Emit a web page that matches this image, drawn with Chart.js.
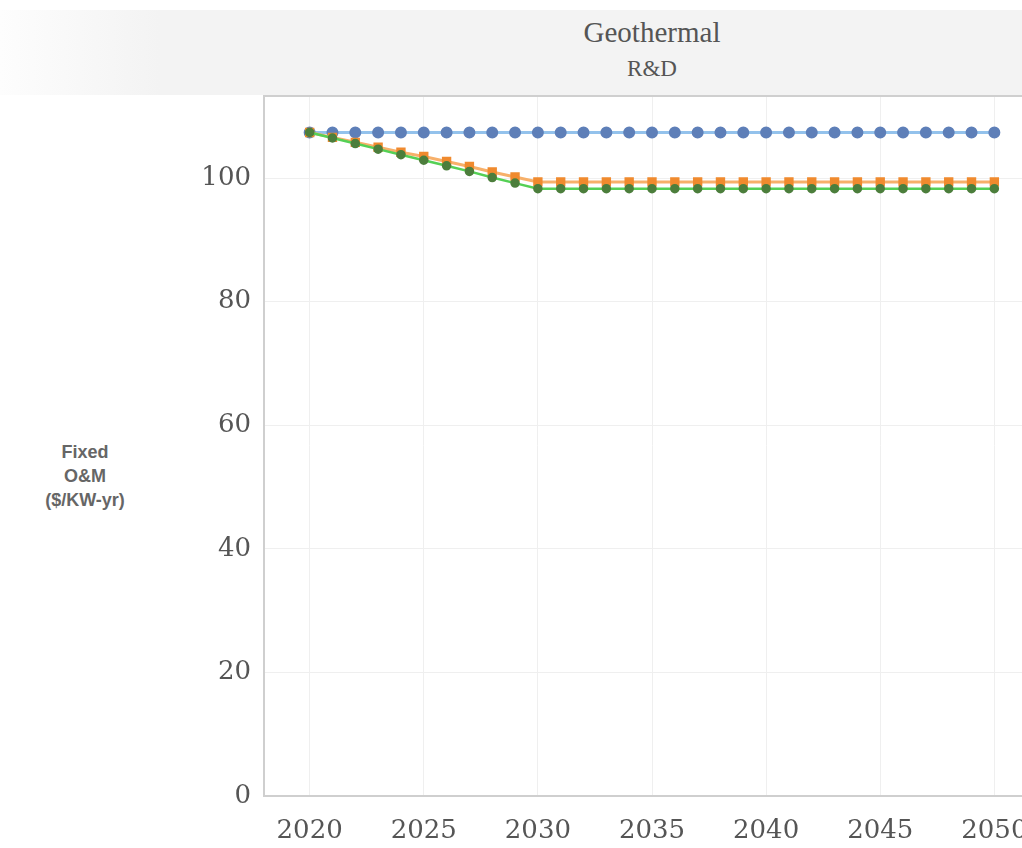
<!DOCTYPE html>
<html>
<head>
<meta charset="utf-8">
<script src="https://cdn.jsdelivr.net/npm/chart.js@4.4.1/dist/chart.umd.min.js"></script>
<style>
    html, body {
        margin: 0;
        padding: 0;
        background: #fff;
        overflow: hidden;
        width: 1022px;
        height: 848px;
    }
    .title-band {
        position: absolute;
        left: 0;
        top: 10px;
        width: 1022px;
        height: 85px;
        background: linear-gradient(90deg, #fdfdfd 0px, #f3f3f3 160px, #f3f3f3 100%);
        font-family: 'Liberation Serif', 'Times New Roman', serif;
        color: #555;
        text-align: center;
    }
    .title-band .main {
        position: absolute;
        left: 452px;
        width: 400px;
        top: 6px;
        font-size: 29px;
    }
    .title-band .sub {
        position: absolute;
        left: 452px;
        width: 400px;
        top: 46px;
        font-size: 23px;
    }
    .y-title {
        position: absolute;
        left: 25px;
        width: 120px;
        top: 440px;
        text-align: center;
        font-family: 'Liberation Sans', Arial, sans-serif;
        font-weight: bold;
        font-size: 18px;
        line-height: 24px;
        color: #666;
    }
    .chart-wrap {
        position: absolute;
        left: 0;
        top: 0;
        width: 1060px;
        height: 848px;
    }
</style>
</head>
<body>
<div class="title-band">
    <div class="main">Geothermal</div>
    <div class="sub">R&amp;D</div>
</div>
<div class="y-title">Fixed<br>O&amp;M<br>($/KW-yr)</div>
<div class="chart-wrap"><canvas id="omChart"></canvas></div>

<script>
// Data
const years = [2020, 2021, 2022, 2023, 2024, 2025, 2026, 2027, 2028, 2029, 2030,
    2031, 2032, 2033, 2034, 2035, 2036, 2037, 2038, 2039, 2040,
    2041, 2042, 2043, 2044, 2045, 2046, 2047, 2048, 2049, 2050];

const baseline = [107.4, 107.4, 107.4, 107.4, 107.4, 107.4, 107.4, 107.4, 107.4, 107.4, 107.4,
    107.4, 107.4, 107.4, 107.4, 107.4, 107.4, 107.4, 107.4, 107.4, 107.4,
    107.4, 107.4, 107.4, 107.4, 107.4, 107.4, 107.4, 107.4, 107.4, 107.4];

const moderate = [107.4, 106.6, 105.8, 105.0, 104.2, 103.5, 102.7, 101.9, 101.0, 100.2, 99.4,
    99.4, 99.4, 99.4, 99.4, 99.4, 99.4, 99.4, 99.4, 99.4, 99.4,
    99.4, 99.4, 99.4, 99.4, 99.4, 99.4, 99.4, 99.4, 99.4, 99.4];

const advanced = [107.4, 106.5, 105.6, 104.7, 103.8, 102.9, 102.0, 101.1, 100.1, 99.2, 98.3,
    98.3, 98.3, 98.3, 98.3, 98.3, 98.3, 98.3, 98.3, 98.3, 98.3,
    98.3, 98.3, 98.3, 98.3, 98.3, 98.3, 98.3, 98.3, 98.3, 98.3];

function toPoints(values) {
    return values.map((v, i) => ({ x: years[i], y: v }));
}

// Draws the top border of the plot area
const plotFrame = {
    id: 'plotFrame',
    afterDraw(chart) {
        const { ctx, chartArea } = chart;
        ctx.save();
        ctx.strokeStyle = '#cfcfcf';
        ctx.lineWidth = 2;
        ctx.beginPath();
        ctx.moveTo(chartArea.left, chartArea.top);
        ctx.lineTo(chartArea.right, chartArea.top);
        ctx.stroke();
        ctx.restore();
    }
};

const serif = "'DejaVu Serif', Georgia, serif";

const omChart = new Chart(document.getElementById('omChart'), {
    type: 'line',
    data: {
        datasets: [{
            label: 'Advanced',
            data: toPoints(advanced),
            borderColor: '#55d055',
            borderWidth: 2.5,
            pointRadius: 3.5,
            pointBackgroundColor: '#4c7e3c',
            pointBorderColor: '#4c7e3c',
            order: 0
        }, {
            label: 'Moderate',
            data: toPoints(moderate),
            borderColor: '#f7b06a',
            borderWidth: 3,
            pointStyle: 'rect',
            pointRadius: 4.5,
            pointBackgroundColor: '#f08a2e',
            pointBorderColor: '#f08a2e',
            order: 1
        }, {
            label: 'Baseline',
            data: toPoints(baseline),
            borderColor: '#93c2ec',
            borderWidth: 3,
            pointRadius: 4.5,
            pointBackgroundColor: '#5e7fb8',
            pointBorderColor: '#5e7fb8',
            order: 2
        }]
    },
    options: {
        responsive: true,
        maintainAspectRatio: false,
        animation: false,
        layout: {
            padding: { top: 96, right: 20, bottom: 0, left: 0 }
        },
        scales: {
            x: {
                type: 'linear',
                min: 2018,
                max: 2052,
                grid: {
                    color: '#efefef',
                    drawTicks: false
                },
                border: {
                    color: '#cfcfcf',
                    width: 2
                },
                ticks: {
                    stepSize: 5,
                    includeBounds: false,
                    padding: 20,
                    color: '#555',
                    font: { family: serif, size: 26 },
                    callback: v => String(v)
                },
                afterFit: scale => { scale.height = 52; }
            },
            y: {
                min: 0,
                max: 113.3,
                grid: {
                    color: '#efefef',
                    drawTicks: false
                },
                border: {
                    color: '#cfcfcf',
                    width: 2
                },
                ticks: {
                    stepSize: 20,
                    includeBounds: false,
                    padding: 13,
                    color: '#555',
                    font: { family: serif, size: 26 }
                },
                afterFit: scale => { scale.width = 264; }
            }
        },
        plugins: {
            legend: { display: false },
            tooltip: { enabled: false }
        }
    },
    plugins: [plotFrame]
});
</script>
</body>
</html>
